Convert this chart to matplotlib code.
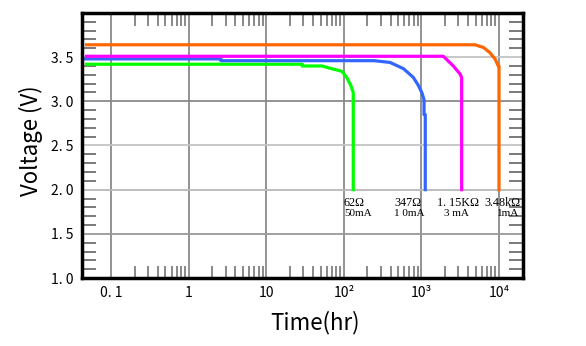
import matplotlib
matplotlib.use("Agg")
import matplotlib.pyplot as plt
import numpy as np

# discharge curves, time in hours vs cell voltage
green_hours = [0.048, 29, 29, 52, 66, 94, 109, 124, 132, 132]
green_volts = [3.42, 3.42, 3.40, 3.40, 3.375, 3.34, 3.27, 3.17, 3.10, 2.0]

blue_hours = [0.043, 2.6, 2.6, 245, 394, 585, 787, 912, 1010, 1080, 1080, 1120, 1120]
blue_volts = [3.48, 3.48, 3.46, 3.46, 3.44, 3.37, 3.27, 3.18, 3.10, 3.02, 2.85, 2.85, 2.0]

magenta_hours = [0.048, 1915, 2577, 3140, 3300, 3300]
magenta_volts = [3.51, 3.51, 3.40, 3.31, 3.27, 2.0]

orange_hours = [0.048, 4900, 6290, 7650, 8870, 9800, 10000, 10000]
orange_volts = [3.64, 3.64, 3.61, 3.55, 3.48, 3.40, 3.40, 2.0]

load_names = ["62Ω", "347Ω", "1. 15KΩ", "3.48kΩ"]
load_x = [100, 444, 1590, 6410]
current_names = ["50mA", "1 0mA", "3 mA", "1mA"]
current_x = [100, 444, 1955, 9430]

x_ticks = [0.1, 1, 10, 100, 1000, 10000]
x_tick_labels = ["0. 1", "1", "10", "10²", "10³", "10⁴"]
y_ticks = [1.0, 1.5, 2.0, 2.5, 3.0, 3.5]
y_tick_labels = ["1. 0", "1. 5", "2. 0", "2. 5", "3. 0", "3. 5"]

gothic = ["Noto Sans CJK JP", "DejaVu Sans"]
serif = ["Liberation Serif", "DejaVu Serif"]

fig = plt.figure(figsize=(5.86, 3.46), dpi=100)
ax = fig.add_axes([0.140, 0.1965, 0.7525, 0.766])

ax.set_xscale("log")
ax.set_xlim(0.042, 20400)
ax.set_ylim(1.0, 4.0)

# grid
for xv in x_ticks:
    ax.axvline(xv, color="#8a8a8a", lw=1.3, zorder=1)
grid_colors = {1.5: "#999999", 2.0: "#b8b8b8", 2.5: "#c4c4c4", 3.0: "#8a8a8a", 3.5: "#c4c4c4"}
for yv, c in grid_colors.items():
    ax.axhline(yv, color=c, lw=1.3, zorder=1)

lw = 2.3
ax.plot(green_hours, green_volts, color="#00ff00", lw=lw, zorder=3)
ax.plot(blue_hours, blue_volts, color="#3366ff", lw=lw, zorder=3)
ax.plot(magenta_hours, magenta_volts, color="#ff00ff", lw=lw, zorder=3)
ax.plot(orange_hours, orange_volts, color="#ff6600", lw=lw, zorder=3)

for name, xv in zip(load_names, load_x):
    ax.text(xv, 1.852, name, family=serif, fontsize=8.7, ha="left", va="center", zorder=2)
for name, xv in zip(current_names, current_x):
    ax.text(xv, 1.727, name, family=serif, fontsize=8, ha="left", va="center", zorder=2)

# ticks
ax.set_xticks(x_ticks)
ax.set_xticklabels(x_tick_labels, family=gothic, fontsize=10)
minor_x = [m * 10.0 ** k for k in range(-1, 4) for m in range(2, 10)]
ax.set_xticks(minor_x, minor=True)
ax.set_yticks(y_ticks)
ax.set_yticklabels(y_tick_labels, family=gothic, fontsize=10)
minor_y = [v / 10 for v in range(11, 40) if v % 5 != 0]
ax.set_yticks(minor_y, minor=True)

ax.tick_params(axis="both", which="major", length=0, pad=6)
ax.tick_params(axis="x", which="minor", direction="in", length=9, width=1.3,
               color="#808080", top=True, bottom=True, labelbottom=False)
ax.tick_params(axis="y", which="minor", direction="in", length=10, width=1.3,
               color="#707070", left=True, right=True)

for side in ax.spines.values():
    side.set_linewidth(2.5)
    side.set_color("black")
    side.set_zorder(4)

ax.set_ylabel("Voltage (V)", family=gothic, fontsize=16)
ax.yaxis.set_label_coords(-0.088, 0.52)
ax.set_xlabel("Time(hr)", family=gothic, fontsize=16)
ax.xaxis.set_label_coords(0.528, -0.125)

fig.savefig("out.png", dpi=100)
